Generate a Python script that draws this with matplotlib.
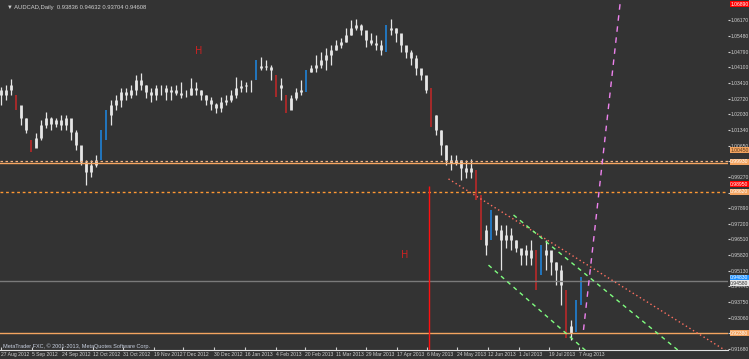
import numpy as np
import matplotlib.pyplot as plt

# AUDCAD daily (one entry per ~2 sessions)
highs = [1.0323, 1.0332, 1.0359, 1.0288, 1.0222, 1.0187, 1.0090, 1.0120, 1.0178, 1.0213,
         1.0191, 1.0187, 1.0200, 1.0200, 1.0156, 1.0134, 1.0054, 1.0001, 1.0001, 1.0023,
         1.0134, 1.0222, 1.0266, 1.0288, 1.0319, 1.0319, 1.0332, 1.0376, 1.0385, 1.0332,
         1.0319, 1.0332, 1.0332, 1.0332, 1.0328, 1.0332, 1.0345, 1.0310, 1.0363, 1.0345,
         1.0310, 1.0288, 1.0279, 1.0253, 1.0279, 1.0288, 1.0310, 1.0367, 1.0354, 1.0345,
         1.0354, 1.0442, 1.0456, 1.0442, 1.0420, 1.0376, 1.0363, 1.0288, 1.0288, 1.0319,
         1.0354, 1.0398, 1.0420, 1.0464, 1.0478, 1.0495, 1.0509, 1.0531, 1.0539, 1.0584,
         1.0619, 1.0623, 1.0601, 1.0566, 1.0561, 1.0553, 1.0531, 1.0597, 1.0623, 1.0584,
         1.0553, 1.0495, 1.0487, 1.0464, 1.0398, 1.0367, 1.0319, 1.0200, 1.0134, 1.0068,
         1.0023, 1.0023, 1.0001, 1.0001, 1.0006, 0.9957, 0.9847, 0.9715, 0.9781, 0.9728,
         0.9715, 0.9715, 0.9702, 0.9649, 0.9604, 0.9627, 0.9649, 0.9604, 0.9627, 0.9649,
         0.9560, 0.9552, 0.9538, 0.9428, 0.9296, 0.9384, 0.9485]
lows = [1.0244, 1.0266, 1.0288, 1.0222, 1.0156, 1.0120, 1.0037, 1.0059, 1.0090, 1.0143,
        1.0134, 1.0147, 1.0134, 1.0134, 1.0090, 1.0046, 0.9979, 0.9891, 0.9926, 0.9971,
        1.0001, 1.0090, 1.0156, 1.0222, 1.0235, 1.0266, 1.0275, 1.0288, 1.0310, 1.0275,
        1.0257, 1.0266, 1.0288, 1.0266, 1.0266, 1.0288, 1.0275, 1.0279, 1.0288, 1.0288,
        1.0266, 1.0244, 1.0222, 1.0209, 1.0213, 1.0244, 1.0257, 1.0275, 1.0301, 1.0301,
        1.0301, 1.0354, 1.0398, 1.0398, 1.0354, 1.0279, 1.0266, 1.0209, 1.0231, 1.0266,
        1.0288, 1.0301, 1.0389, 1.0389, 1.0407, 1.0398, 1.0420, 1.0487, 1.0495, 1.0522,
        1.0553, 1.0575, 1.0553, 1.0500, 1.0509, 1.0487, 1.0464, 1.0478, 1.0553, 1.0522,
        1.0478, 1.0451, 1.0420, 1.0376, 1.0354, 1.0297, 1.0147, 1.0112, 1.0023, 0.9979,
        0.9957, 0.9979, 0.9913, 0.9922, 0.9922, 0.9825, 0.9649, 0.9582, 0.9649, 0.9671,
        0.9516, 0.9613, 0.9604, 0.9596, 0.9538, 0.9538, 0.9538, 0.9428, 0.9494, 0.9516,
        0.9494, 0.9450, 0.9362, 0.9216, 0.9208, 0.9243, 0.9362]
closes = [1.0288, 1.0310, 1.0332, 1.0244, 1.0187, 1.0134, 1.0054, 1.0098, 1.0156, 1.0187,
          1.0160, 1.0178, 1.0156, 1.0187, 1.0125, 1.0068, 0.9993, 0.9948, 0.9979, 1.0001,
          1.0112, 1.0200, 1.0244, 1.0266, 1.0301, 1.0288, 1.0310, 1.0354, 1.0332, 1.0301,
          1.0288, 1.0319, 1.0319, 1.0301, 1.0310, 1.0297, 1.0288, 1.0288, 1.0319, 1.0310,
          1.0288, 1.0266, 1.0248, 1.0231, 1.0257, 1.0266, 1.0288, 1.0319, 1.0328, 1.0332,
          1.0332, 1.0407, 1.0416, 1.0412, 1.0398, 1.0319, 1.0332, 1.0222, 1.0275, 1.0301,
          1.0310, 1.0389, 1.0407, 1.0420, 1.0442, 1.0464, 1.0487, 1.0509, 1.0522, 1.0553,
          1.0584, 1.0597, 1.0575, 1.0531, 1.0517, 1.0509, 1.0487, 1.0575, 1.0584, 1.0561,
          1.0509, 1.0478, 1.0451, 1.0407, 1.0376, 1.0310, 1.0200, 1.0134, 1.0068, 1.0001,
          0.9988, 1.0001, 0.9966, 0.9948, 0.9966, 0.9847, 0.9693, 0.9627, 0.9759, 0.9693,
          0.9649, 0.9671, 0.9649, 0.9613, 0.9582, 0.9604, 0.9569, 0.9472, 0.9582, 0.9604,
          0.9552, 0.9516, 0.9450, 0.9238, 0.9269, 0.9371, 0.9463]

date_labels = ['27 Aug 2012', '5 Sep 2012', '24 Sep 2012', '12 Oct 2012', '31 Oct 2012',
               '19 Nov 2012', '7 Dec 2012', '30 Dec 2012', '16 Jan 2013', '4 Feb 2013',
               '20 Feb 2013', '11 Mar 2013', '29 Mar 2013', '17 Apr 2013', '6 May 2013',
               '24 May 2013', '12 Jun 2013', '1 Jul 2013', '19 Jul 2013', '7 Aug 2013']
date_pos = [0.0, 6.2, 12.2, 18.4, 24.4, 30.6, 36.4, 42.6, 48.8, 55.0,
            60.8, 67.0, 73.0, 79.2, 85.2, 91.2, 97.4, 103.6, 109.6, 115.6]

price_ticks = [0.9168 + 0.0069 * k for k in range(22)]

# horizontal levels
level_dotted_light = 0.9997
level_solid_peach = 0.9986
level_dotted_orange = 0.9860
level_bid = 0.9468
level_support = 0.9238

# drawn objects (bar index, price)
red_trend = [(89.4, 0.9918), (146.0, 0.9145)]
green_a = [(102.4, 0.9759), (136.0, 0.9150)]
green_b = [(97.4, 0.9538), (117.4, 0.9150)]
pink_ray = [(116.4, 0.9252), (123.8, 1.0707)]
vline_bar, vline_top = 85.5, 0.9887
h_marks = [(39.4, 1.0482), (80.6, 0.9582)]

# price labels on the right scale (value, face, text colour)
scale_tags = [(1.0689, '#ff0000', 'white'), (1.0045, '#f4a460', '#5a3a1a'),
              (0.9993, '#f4a460', 'white'), (0.9895, '#ff0000', 'white'),
              (0.9862, '#f4a460', 'white'), (0.9483, '#1e90ff', 'white'),
              (0.9458, '#e8e8e8', '#333333'), (0.9238, '#f4a460', 'white')]

plt.rcParams['font.family'] = ['Liberation Sans', 'DejaVu Sans']
fs = 3.6

bg = '#333333'
fig = plt.figure(figsize=(7.49, 3.59), dpi=100, facecolor=bg)
ax = fig.add_axes([0, 9 / 359, 728 / 749, 350 / 359], facecolor=bg)

x = np.arange(len(closes))
c = np.array(closes)
h = np.array(highs)
l = np.array(lows)
o = np.concatenate([[1.0310], c[:-1]])
move = c - o
up = move > 0.0075
dn = move < -0.0075
plain = ~(up | dn)

ax.vlines(x[plain], l[plain], h[plain], color='#e6e6e6', lw=0.9)
ax.vlines(x[plain], np.minimum(o, c)[plain], np.maximum(o, c)[plain], color='#e6e6e6', lw=2.0)
ax.vlines(x[up], l[up], h[up], color='#1e88e5', lw=1.1)
ax.vlines(x[dn], l[dn], h[dn], color='#c62828', lw=1.1)

# levels
ax.axhline(level_dotted_light, color='#f0b080', lw=0.9, ls=(0, (2, 2)))
ax.axhline(level_solid_peach, color='#f4a460', lw=1.0)
ax.axhline(level_dotted_orange, color='#ff9933', lw=1.0, ls=(0, (2, 2)))
ax.axhline(level_bid, color='#7a7a7a', lw=1.0)
ax.axhline(level_support, color='#f4a460', lw=1.0)

# trend lines
for pts, col, ls in [(red_trend, '#ff7060', (0, (1, 2))),
                     (green_a, '#80ff80', (0, (3, 3))),
                     (green_b, '#80ff80', (0, (3, 3))),
                     (pink_ray, '#ee82ee', (0, (4, 4)))]:
    ax.plot([pts[0][0], pts[1][0]], [pts[0][1], pts[1][1]], color=col, lw=1.0, ls=ls)

ax.plot([vline_bar, vline_bar], [0.9, vline_top], color='#ff1010', lw=1.0,
        solid_capstyle='butt', snap=True)
for bx, py in h_marks:
    ax.text(bx, py, 'H', color='#cc2222', fontsize=7, ha='center', va='center',
            family='DejaVu Sans')

ax.set_xlim(-0.3, 145.3)
ax.set_ylim(0.91635, 1.0707)

ax.set_xticks(date_pos)
ax.set_xticklabels(date_labels, ha='left')
ax.yaxis.tick_right()
ax.set_yticks(price_ticks)
ax.set_yticklabels(['%.5f' % v for v in price_ticks])
ax.tick_params(axis='x', colors='#d0d0d0', labelsize=fs, length=2, direction='in', pad=1.5)
ax.tick_params(axis='y', colors='#d0d0d0', labelsize=fs, length=1.2, pad=1)

for s in ['top', 'left', 'right']:
    ax.spines[s].set_visible(False)
ax.spines['bottom'].set_color('#e0e0e0')

ytr = ax.get_yaxis_transform()
for val, face, tc in scale_tags:
    ax.text(1.003, val, '%.5f' % val, transform=ytr, fontsize=fs, color=tc, ha='left',
            va='center', bbox=dict(boxstyle='square,pad=0.1', fc=face, ec='none'))

ax.text(0.01, 1 - 8 / 350, '\u25bc AUDCAD,Daily  0.93836 0.94632 0.93704 0.94608',
        transform=ax.transAxes, fontsize=4.2, color='#d0d0d0', va='center')
ax.text(0.004, 4 / 350, 'MetaTrader FXC, \u00a9 2001-2013, MetaQuotes Software Corp.',
        transform=ax.transAxes, fontsize=4.0, color='#c8d0e0', va='center')

fig.savefig('out.png', dpi=100, facecolor=bg)
